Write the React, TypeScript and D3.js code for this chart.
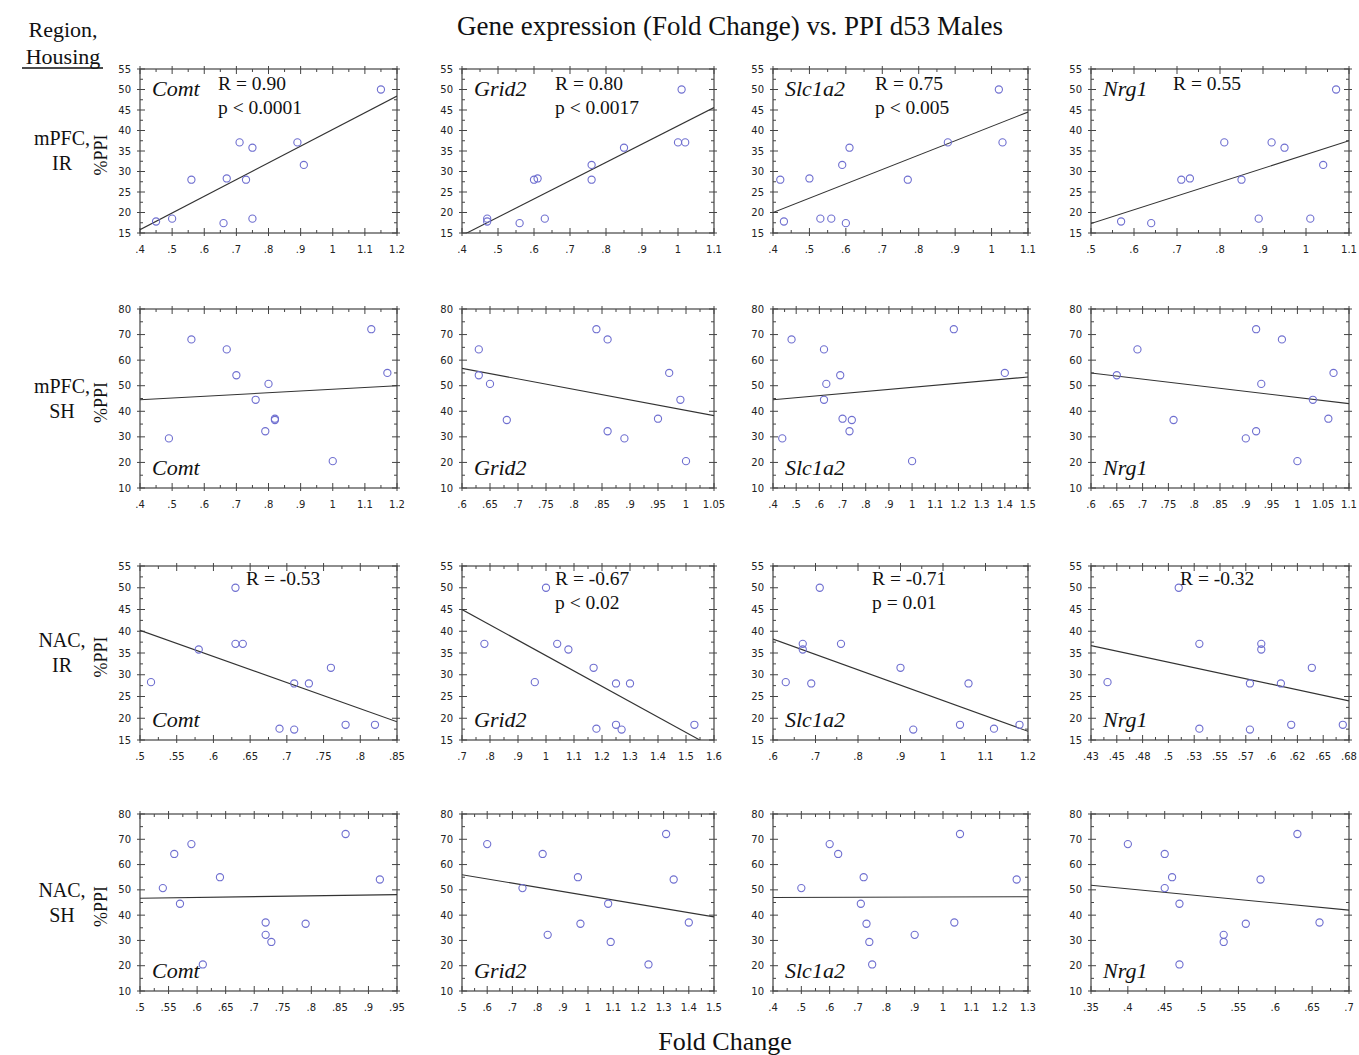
import React, { useEffect } from 'react';
import * as d3 from 'd3';

const TITLE = 'Gene expression (Fold Change) vs. PPI d53 Males';
const GENES = ['Comt', 'Grid2', 'Slc1a2', 'Nrg1'];
const ROW_LABELS = [['mPFC,', 'IR'], ['mPFC,', 'SH'], ['NAC,', 'IR'], ['NAC,', 'SH']];

const Y_TICKS_IR = [15, 20, 25, 30, 35, 40, 45, 50, 55];
const Y_TICKS_SH = [10, 20, 30, 40, 50, 60, 70, 80];
const Y_TICKS = [Y_TICKS_IR, Y_TICKS_SH, Y_TICKS_IR, Y_TICKS_SH];

// x ticks per panel (row, gene)
const X_TICKS = [
  [
    [0.4, 0.5, 0.6, 0.7, 0.8, 0.9, 1, 1.1, 1.2],
    [0.4, 0.5, 0.6, 0.7, 0.8, 0.9, 1, 1.1],
    [0.4, 0.5, 0.6, 0.7, 0.8, 0.9, 1, 1.1],
    [0.5, 0.6, 0.7, 0.8, 0.9, 1, 1.1],
  ],
  [
    [0.4, 0.5, 0.6, 0.7, 0.8, 0.9, 1, 1.1, 1.2],
    [0.6, 0.65, 0.7, 0.75, 0.8, 0.85, 0.9, 0.95, 1, 1.05],
    [0.4, 0.5, 0.6, 0.7, 0.8, 0.9, 1, 1.1, 1.2, 1.3, 1.4, 1.5],
    [0.6, 0.65, 0.7, 0.75, 0.8, 0.85, 0.9, 0.95, 1, 1.05, 1.1],
  ],
  [
    [0.5, 0.55, 0.6, 0.65, 0.7, 0.75, 0.8, 0.85],
    [0.7, 0.8, 0.9, 1, 1.1, 1.2, 1.3, 1.4, 1.5, 1.6],
    [0.6, 0.7, 0.8, 0.9, 1, 1.1, 1.2],
    [0.425, 0.45, 0.475, 0.5, 0.525, 0.55, 0.575, 0.6, 0.625, 0.65, 0.675],
  ],
  [
    [0.5, 0.55, 0.6, 0.65, 0.7, 0.75, 0.8, 0.85, 0.9, 0.95],
    [0.5, 0.6, 0.7, 0.8, 0.9, 1, 1.1, 1.2, 1.3, 1.4, 1.5],
    [0.4, 0.5, 0.6, 0.7, 0.8, 0.9, 1, 1.1, 1.2, 1.3],
    [0.35, 0.4, 0.45, 0.5, 0.55, 0.6, 0.65, 0.7],
  ],
];
const NRG1_NAC_IR_LABELS = ['.43', '.45', '.48', '.5', '.53', '.55', '.57', '.6', '.62', '.65', '.68'];

// points [fold change, %PPI]
const mpfcIrComt = [[0.45, 17.8], [0.5, 18.5], [0.56, 28.0], [0.66, 17.4], [0.67, 28.3], [0.71, 37.1], [0.73, 28.0], [0.75, 35.8], [0.75, 18.5], [0.89, 37.1], [0.91, 31.6], [1.15, 50.0]];
const mpfcIrGrid2 = [[0.47, 18.5], [0.47, 17.8], [0.56, 17.4], [0.6, 28.0], [0.61, 28.3], [0.63, 18.5], [0.76, 31.6], [0.76, 28.0], [0.85, 35.8], [1.0, 37.1], [1.01, 50.0], [1.02, 37.1]];
const mpfcIrSlc1a2 = [[0.42, 28.0], [0.43, 17.8], [0.5, 28.3], [0.53, 18.5], [0.56, 18.5], [0.59, 31.6], [0.6, 17.4], [0.61, 35.8], [0.77, 28.0], [0.88, 37.1], [1.02, 50.0], [1.03, 37.1]];
const mpfcIrNrg1 = [[0.57, 17.8], [0.64, 17.4], [0.71, 28.0], [0.73, 28.3], [0.81, 37.1], [0.85, 28.0], [0.89, 18.5], [0.92, 37.1], [0.95, 35.8], [1.01, 18.5], [1.04, 31.6], [1.07, 50.0]];

const mpfcShComt = [[0.49, 29.4], [0.56, 68.1], [0.67, 64.2], [0.7, 54.1], [0.76, 44.5], [0.79, 32.2], [0.8, 50.7], [0.82, 37.1], [0.82, 36.6], [1.0, 20.5], [1.12, 72.1], [1.17, 55.0]];
const mpfcShGrid2 = [[0.63, 64.2], [0.63, 54.1], [0.65, 50.7], [0.68, 36.6], [0.84, 72.1], [0.86, 68.1], [0.86, 32.2], [0.89, 29.4], [0.95, 37.1], [0.97, 55.0], [0.99, 44.5], [1.0, 20.5]];
const mpfcShSlc1a2 = [[0.44, 29.4], [0.48, 68.1], [0.62, 64.2], [0.62, 44.5], [0.63, 50.7], [0.69, 54.1], [0.7, 37.1], [0.74, 36.6], [0.73, 32.2], [1.0, 20.5], [1.18, 72.1], [1.4, 55.0]];
const mpfcShNrg1 = [[0.65, 54.1], [0.69, 64.2], [0.76, 36.6], [0.9, 29.4], [0.92, 32.2], [0.92, 72.1], [0.93, 50.7], [0.97, 68.1], [1.0, 20.5], [1.03, 44.5], [1.06, 37.1], [1.07, 55.0]];

const nacIrComt = [[0.515, 28.3], [0.58, 35.8], [0.63, 50.0], [0.63, 37.1], [0.64, 37.1], [0.69, 17.6], [0.71, 28.0], [0.71, 17.4], [0.73, 28.0], [0.76, 31.6], [0.78, 18.5], [0.82, 18.5]];
const nacIrGrid2 = [[0.78, 37.1], [0.96, 28.3], [1.0, 50.0], [1.04, 37.1], [1.08, 35.8], [1.17, 31.6], [1.18, 17.6], [1.25, 28.0], [1.25, 18.5], [1.27, 17.4], [1.3, 28.0], [1.53, 18.5]];
const nacIrSlc1a2 = [[0.63, 28.3], [0.67, 37.1], [0.67, 35.8], [0.69, 28.0], [0.71, 50.0], [0.76, 37.1], [0.9, 31.6], [0.93, 17.4], [1.04, 18.5], [1.06, 28.0], [1.12, 17.6], [1.18, 18.5]];
const nacIrNrg1 = [[0.441, 28.3], [0.51, 50.0], [0.53, 37.1], [0.53, 17.6], [0.579, 28.0], [0.579, 17.4], [0.59, 37.1], [0.59, 35.8], [0.609, 28.0], [0.619, 18.5], [0.639, 31.6], [0.669, 18.5]];

const nacShComt = [[0.54, 50.7], [0.56, 64.2], [0.57, 44.5], [0.59, 68.1], [0.64, 55.0], [0.61, 20.5], [0.72, 37.1], [0.72, 32.2], [0.73, 29.4], [0.79, 36.6], [0.86, 72.1], [0.92, 54.1]];
const nacShGrid2 = [[0.6, 68.1], [0.74, 50.7], [0.82, 64.2], [0.84, 32.2], [0.96, 55.0], [0.97, 36.6], [1.08, 44.5], [1.09, 29.4], [1.24, 20.5], [1.31, 72.1], [1.34, 54.1], [1.4, 37.1]];
const nacShSlc1a2 = [[0.5, 50.7], [0.6, 68.1], [0.63, 64.2], [0.71, 44.5], [0.72, 55.0], [0.73, 36.6], [0.74, 29.4], [0.75, 20.5], [0.9, 32.2], [1.04, 37.1], [1.06, 72.1], [1.26, 54.1]];
const nacShNrg1 = [[0.4, 68.1], [0.45, 64.2], [0.45, 50.7], [0.46, 55.0], [0.47, 44.5], [0.47, 20.5], [0.53, 32.2], [0.53, 29.4], [0.56, 36.6], [0.58, 54.1], [0.63, 72.1], [0.66, 37.1]];

const POINTS = [
  [mpfcIrComt, mpfcIrGrid2, mpfcIrSlc1a2, mpfcIrNrg1],
  [mpfcShComt, mpfcShGrid2, mpfcShSlc1a2, mpfcShNrg1],
  [nacIrComt, nacIrGrid2, nacIrSlc1a2, nacIrNrg1],
  [nacShComt, nacShGrid2, nacShSlc1a2, nacShNrg1],
];

// regression lines, two ends
const FITS = [
  [[[0.4, 15.8], [1.2, 48.4]], [[0.4, 14.4], [1.1, 45.6]], [[0.4, 20], [1.1, 44.5]], [[0.5, 17.3], [1.1, 37.5]]],
  [[[0.4, 44.5], [1.2, 50]], [[0.6, 56.8], [1.05, 38.3]], [[0.4, 44.5], [1.5, 53.4]], [[0.6, 55], [1.1, 43]]],
  [[[0.5, 40.2], [0.85, 19.2]], [[0.7, 45], [1.6, 13.2]], [[0.6, 38.2], [1.2, 17]], [[0.425, 36.7], [0.675, 24]]],
  [[[0.5, 46.7], [0.95, 48.1]], [[0.5, 56], [1.5, 39.3]], [[0.4, 47], [1.3, 47.3]], [[0.35, 51.8], [0.7, 42]]],
];

const STATS = [
  [['R = 0.90', 'p < 0.0001'], ['R = 0.80', 'p < 0.0017'], ['R = 0.75', 'p < 0.005'], ['R = 0.55']],
  [[], [], [], []],
  [['R = -0.53'], ['R = -0.67', 'p < 0.02'], ['R = -0.71', 'p = 0.01'], ['R = -0.32']],
  [[], [], [], []],
];

// layout
const COL_X = [[140, 397], [462, 714], [773, 1028], [1091, 1349]];
const ROW_Y = [[69, 233], [309, 488], [566, 740], [814, 991]];
const STAT_DX = [[78, 93, 102, 82], [0, 0, 0, 0], [106, 93, 99, 89], [0, 0, 0, 0]];

const SERIF = '"Liberation Serif", "Times New Roman", serif';
const SANS = '"DejaVu Sans", "Liberation Sans", Arial, sans-serif';

const fmtTick = (v: number) => {
  const s = d3.format('~g')(+v.toFixed(3));
  return s.startsWith('0.') ? s.slice(1) : s;
};

const Panel = ({ r, c }: { r: number; c: number }) => {
  const [x0, x1] = COL_X[c];
  const [y0, y1] = ROW_Y[r];
  const xt = X_TICKS[r][c];
  const yt = Y_TICKS[r];
  const x = d3.scaleLinear().domain([xt[0], xt[xt.length - 1]]).range([x0, x1]);
  const y = d3.scaleLinear().domain([yt[0], yt[yt.length - 1]]).range([y1, y0]);
  const xMinor = xt.slice(1).map((v, i) => (v + xt[i]) / 2);
  const yMinor = yt.slice(1).map((v, i) => (v + yt[i]) / 2);
  const labels = r === 2 && c === 3 ? NRG1_NAC_IR_LABELS : xt.map(fmtTick);
  const line = d3.line<number[]>().x(d => x(d[0])).y(d => y(d[1]));
  const clipId = `clip-${r}-${c}`;
  const stats = STATS[r][c];
  const geneTop = r === 0;
  const tc = '#444';
  return (
    <g>
      <clipPath id={clipId}>
        <rect x={x0} y={y0} width={x1 - x0} height={y1 - y0} />
      </clipPath>
      <rect x={x0} y={y0} width={x1 - x0} height={y1 - y0} fill="none" stroke={tc} strokeWidth={1.2} />
      {xt.map((v, i) => (
        <g key={'xt' + i}>
          <line x1={x(v)} x2={x(v)} y1={y1 + 3} y2={y1 - 5} stroke={tc} />
          <line x1={x(v)} x2={x(v)} y1={y0 - 3} y2={y0 + 5} stroke={tc} />
          <text x={x(v)} y={y1 + 20} textAnchor="middle" fontFamily={SANS} fontSize={10} fill="#222">{labels[i]}</text>
        </g>
      ))}
      {xMinor.map((v, i) => (
        <g key={'xm' + i}>
          <line x1={x(v)} x2={x(v)} y1={y1} y2={y1 - 3} stroke={tc} />
          <line x1={x(v)} x2={x(v)} y1={y0} y2={y0 + 3} stroke={tc} />
        </g>
      ))}
      {yt.map((v, i) => (
        <g key={'yt' + i}>
          <line x1={x0 - 3} x2={x0 + 5} y1={y(v)} y2={y(v)} stroke={tc} />
          <line x1={x1 - 5} x2={x1 + 3} y1={y(v)} y2={y(v)} stroke={tc} />
          <text x={x0 - 9} y={y(v)} dy="0.35em" textAnchor="end" fontFamily={SANS} fontSize={10} fill="#222">{v}</text>
        </g>
      ))}
      {yMinor.map((v, i) => (
        <g key={'ym' + i}>
          <line x1={x0} x2={x0 + 3} y1={y(v)} y2={y(v)} stroke={tc} />
          <line x1={x1 - 3} x2={x1} y1={y(v)} y2={y(v)} stroke={tc} />
        </g>
      ))}
      <path d={line(FITS[r][c]) || ''} clipPath={`url(#${clipId})`} fill="none" stroke="#333" strokeWidth={1.1} />
      {POINTS[r][c].map((d, i) => (
        <circle key={'p' + i} cx={x(d[0])} cy={y(d[1])} r={3.6} fill="none" stroke="#6f6fd0" strokeWidth={1.1} />
      ))}
      <text
        x={x0 + 12}
        y={geneTop ? y0 + 27 : y1 - 13}
        fontFamily={SERIF}
        fontStyle="italic"
        fontSize={22}
        fill="#111"
      >{GENES[c]}</text>
      {stats.map((s, i) => (
        <text key={'s' + i} x={x0 + STAT_DX[r][c]} y={y0 + (r === 0 ? 21 : 19) + i * 24} fontFamily={SERIF} fontSize={19.5} fill="#111">{s}</text>
      ))}
      {c === 0 && (
        <text
          transform={`translate(${x0 - 33},${(y0 + y1) / 2 + 4}) rotate(-90)`}
          textAnchor="middle"
          fontFamily={SERIF}
          fontSize={18}
          fill="#111"
        >%PPI</text>
      )}
    </g>
  );
};

export default function App() {
  useEffect(() => {
    document.body.style.margin = '0';
  }, []);
  const rowMid = ROW_Y.map(([a, b]) => (a + b) / 2);
  return (
    <svg width={1359} height={1055} style={{ display: 'block', background: '#fff' }}>
      <text x={730} y={35} textAnchor="middle" fontFamily={SERIF} fontSize={27} fill="#111">{TITLE}</text>
      <text x={63} y={37} textAnchor="middle" fontFamily={SERIF} fontSize={22} fill="#111">Region,</text>
      <text x={63} y={64} textAnchor="middle" fontFamily={SERIF} fontSize={22} fill="#111">Housing</text>
      <line x1={22} x2={103} y1={68} y2={68} stroke="#111" strokeWidth={1.3} />
      {ROW_LABELS.map((lab, r) => (
        <g key={'rl' + r}>
          <text x={62} y={rowMid[r] - 6} textAnchor="middle" fontFamily={SERIF} fontSize={20} fill="#111">{lab[0]}</text>
          <text x={62} y={rowMid[r] + 19} textAnchor="middle" fontFamily={SERIF} fontSize={20} fill="#111">{lab[1]}</text>
        </g>
      ))}
      {ROW_LABELS.map((_, r) => GENES.map((__, c) => <Panel key={`${r}-${c}`} r={r} c={c} />))}
      <text x={725} y={1050} textAnchor="middle" fontFamily={SERIF} fontSize={26} fill="#111">Fold Change</text>
    </svg>
  );
}
